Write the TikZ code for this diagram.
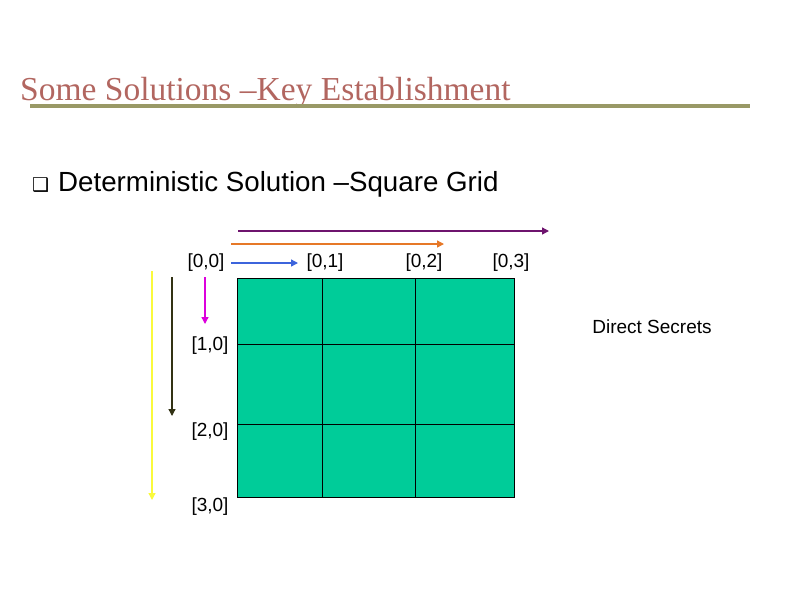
\documentclass[tikz,border=0pt]{standalone}
\usepackage{fontspec}
\setmainfont{Liberation Sans}
\newfontfamily\titlefont{Liberation Serif}
\newfontfamily\symfont{DejaVu Sans}
\usetikzlibrary{arrows.meta}
\definecolor{titlered}{RGB}{178,102,96}
\definecolor{olivebar}{RGB}{153,153,102}
\definecolor{gridgreen}{RGB}{0,204,153}
\definecolor{arrpurple}{RGB}{110,20,110}
\definecolor{arrorange}{RGB}{230,120,40}
\definecolor{arrblue}{RGB}{60,100,220}
\definecolor{arrmag}{RGB}{220,0,220}
\definecolor{arrdark}{RGB}{50,50,20}
\definecolor{arryellow}{RGB}{250,250,60}
\tikzset{
  lbl/.style={inner sep=0pt, anchor=center, font=\fontsize{19}{22}\selectfont},
  arr/.style={-{Triangle[length=7pt,width=7pt]}, line width=1.3pt},
}
\begin{document}
\begin{tikzpicture}[x=1pt,y=-1pt]
\useasboundingbox (0,0) rectangle (794,595);
% title
\node[anchor=base west, inner sep=0pt, text=titlered, font=\titlefont\fontsize{33.5}{36}\selectfont] (title) at (20,100) {Some Solutions –Key Establishment};
\draw[olivebar, line width=4pt] (30,106) -- (750,106);
% bullet
\node[anchor=base west, inner sep=0pt, font=\symfont\fontsize{19}{22}\selectfont] (bul) at (32,191) {❑};
\node[anchor=base west, inner sep=0pt, font=\fontsize{27.7}{32}\selectfont] (head) at (58,191) {Deterministic Solution –Square Grid};
% grid
\draw[fill=gridgreen, draw=black, line width=0.8pt] (237,278) rectangle (514,497);
\draw[black, line width=0.8pt] (322,278) -- (322,497) (415,278) -- (415,497)
  (237,344) -- (514,344) (237,424) -- (514,424);
% labels
\node[lbl] (l00) at (206,263) {[0,0]};
\node[lbl] (l01) at (325,263) {[0,1]};
\node[lbl] (l02) at (424,263) {[0,2]};
\node[lbl] (l03) at (511,263) {[0,3]};
\node[lbl] (l10) at (210,346) {[1,0]};
\node[lbl] (l20) at (210,432) {[2,0]};
\node[lbl] (l30) at (210,507) {[3,0]};
\node[lbl] (ds) at (652,327) {Direct Secrets};
% arrows
\coordinate (p1) at (238,231); \coordinate (p2) at (549,231);
\coordinate (o1) at (231,244); \coordinate (o2) at (444,244);
\coordinate (b1) at (231,263); \coordinate (b2) at (298,263);
\coordinate (m1) at (205,277); \coordinate (m2) at (205,324);
\coordinate (d1) at (172,277); \coordinate (d2) at (172,416);
\coordinate (y1) at (152,271); \coordinate (y2) at (152,500);
\draw[arr, arrpurple] (p1) -- (p2);
\draw[arr, arrorange] (o1) -- (o2);
\draw[arr, arrblue] (b1) -- (b2);
\draw[arr, arrmag] (m1) -- (m2);
\draw[arr, arrdark] (d1) -- (d2);
\draw[arr, arryellow] (y1) -- (y2);
\end{tikzpicture}
\end{document}
